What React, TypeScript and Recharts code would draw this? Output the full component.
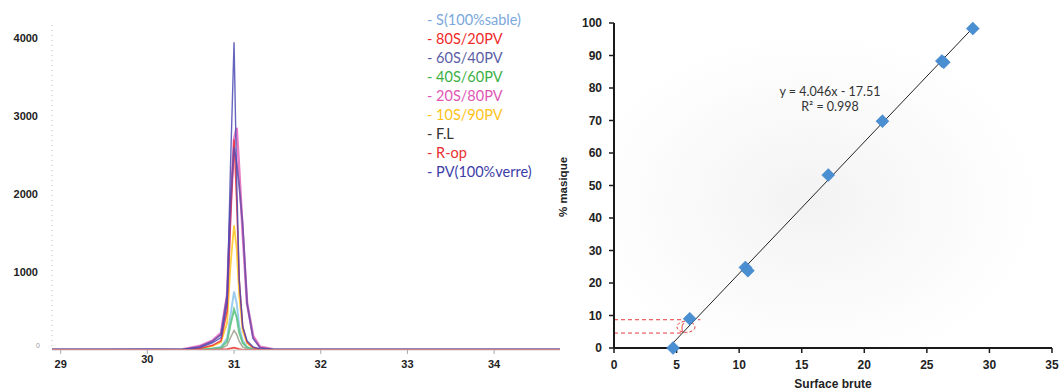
import React from 'react'
import {
  LineChart, Line, XAxis, YAxis, ScatterChart, Scatter, ReferenceLine, ReferenceDot, ReferenceArea, Label,
} from 'recharts'

// left panel: chromatogram around 31 min
const retention = [28.9, 29.5, 30.0, 30.4, 30.6, 30.75, 30.85, 30.92, 30.96, 31.0, 31.03, 31.06, 31.1, 31.15, 31.22, 31.3, 31.45, 32.0, 32.5, 33.0, 33.5, 34.0, 34.76]

const sable100 = [4, 3, 4, 3, 5, 20, 40, 150, 450, 750, 600, 300, 120, 40, 10, 4, 3, 4, 3, 4, 3, 4, 3]
const s80pv20 = [3, 3, 3, 3, 20, 60, 120, 500, 1700, 2700, 1900, 900, 300, 100, 30, 10, 3, 3, 3, 3, 3, 3, 3]
const s60pv40 = [6, 5, 6, 5, 40, 110, 200, 700, 1900, 2600, 2400, 2100, 1600, 600, 150, 30, 8, 6, 5, 6, 5, 6, 5]
const s40pv60 = [2, 2, 2, 2, 5, 15, 30, 110, 330, 520, 420, 220, 90, 30, 8, 2, 2, 2, 2, 2, 2, 2, 2]
const s20pv80 = [5, 5, 5, 5, 50, 120, 220, 700, 1800, 2700, 2850, 2300, 1500, 600, 180, 40, 8, 5, 5, 5, 5, 5, 5]
const s10pv90 = [2, 2, 2, 2, 15, 50, 100, 350, 1100, 1600, 1300, 700, 250, 90, 25, 5, 2, 2, 2, 2, 2, 2, 2]
const fl = [1, 1, 1, 1, 3, 5, 15, 60, 160, 250, 200, 110, 40, 10, 3, 1, 1, 1, 1, 1, 1, 1, 1]
const rop = [0, 0, 0, 0, 0, 2, 5, 10, 20, 30, 20, 10, 5, 2, 0, 0, 0, 0, 0, 0, 0, 0, 0]
const pv100 = [8, 6, 10, 8, 30, 90, 160, 600, 2400, 3950, 2200, 900, 300, 120, 40, 15, 8, 6, 8, 6, 8, 6, 8]

const leftTicksX = [29, 30, 31, 32, 33, 34]
const leftTicksY = [0, 1000, 2000, 3000, 4000]

// right panel: calibration
const surface = [4.72, 6.05, 10.5, 10.7, 17.12, 21.45, 26.2, 26.35, 28.67]
const masse = [0, 9, 24.8, 23.8, 53.2, 69.8, 88.3, 87.9, 98.3]
const trendX = [4.33, 28.7]
const trendY = [0, 98.6]
const rightTicksX = [0, 5, 10, 15, 20, 25, 30, 35]
const rightTicksY = [0, 10, 20, 30, 40, 50, 60, 70, 80, 90, 100]

const series = [
  { key: 's20pv80', name: '20S/80PV', color: '#e466bc', text: '#e056b4', width: 2.6, values: s20pv80 },
  { key: 's10pv90', name: '10S/90PV', color: '#ffc61f', text: '#ffc21a', width: 1.8, values: s10pv90 },
  { key: 'sable100', name: 'S(100%sable)', color: '#8cc4ea', text: '#7aa8dc', width: 2, values: sable100 },
  { key: 's40pv60', name: '40S/60PV', color: '#55c07a', text: '#3cb043', width: 2, values: s40pv60 },
  { key: 'fl', name: 'F.L', color: '#9a9a88', text: '#333333', width: 1.5, values: fl },
  { key: 's80pv20', name: '80S/20PV', color: '#ea2c3a', text: '#ee2a2a', width: 1.5, values: s80pv20 },
  { key: 's60pv40', name: '60S/40PV', color: '#6a4aa8', text: '#5b5ea6', width: 1.8, values: s60pv40 },
  { key: 'pv100', name: 'PV(100%verre)', color: '#4a4ab4', text: '#3d3da8', width: 1.4, values: pv100 },
  { key: 'rop', name: 'R-op', color: '#e8302a', text: '#e83030', width: 1.8, values: rop },
]

const legendOrder = ['sable100', 's80pv20', 's60pv40', 's40pv60', 's20pv80', 's10pv90', 'fl', 'rop', 'pv100']

const chromData = retention.map((x, i) => {
  const row: any = { x }
  series.forEach(s => { row[s.key] = s.values[i] })
  return row
})

const points = surface.map((x, i) => ({ x, y: masse[i] }))
const trend = trendX.map((x, i) => ({ x, y: trendY[i] }))

const bold = { fontFamily: 'Liberation Sans, Arial, sans-serif', fontWeight: 700, fill: '#222' }

const LeftYTick = ({ x, y, payload }: any) => {
  if (payload.value === 0) {
    return <text x={x - 4} y={y - 2} textAnchor="end" fontSize={7} fill="#999" fontFamily="Liberation Sans">0</text>
  }
  return <text x={x - 6} y={y} dy={4} textAnchor="end" fontSize={11} {...bold}>{payload.value}</text>
}

const LeftXTick = ({ x, y, payload }: any) => (
  <text x={x} y={payload.value === 30 ? y + 7 : y + 12} textAnchor="middle" fontSize={11} {...bold}>{payload.value}</text>
)

const Diamond = ({ cx, cy }: any) => (
  <polygon
    points={`${cx},${cy - 6.5} ${cx + 6.5},${cy} ${cx},${cy + 6.5} ${cx - 6.5},${cy}`}
    fill="#4a8fd2"
    stroke="#3f7fc2"
    strokeWidth={0.5}
  />
)

const DashedEllipse = ({ cx, cy }: any) => (
  <g>
    <ellipse cx={cx} cy={cy} rx={9} ry={5.5} fill="none" stroke="#e83a3a" strokeWidth={1} strokeDasharray="3 2" />
    <text x={cx - 5} y={cy + 4} fontSize={10} fill="#e83a3a" fontFamily="Liberation Sans">(</text>
  </g>
)

const EqText = (txt: string) => ({ cx, cy }: any) => (
  <text x={cx} y={cy} dy={4} textAnchor="middle" fontSize={12.5} fill="#333" fontFamily="Lato, Liberation Sans, sans-serif">{txt}</text>
)

export default function App() {
  return (
    <div style={{ position: 'absolute', left: 0, top: 0, width: 1059, height: 392, background: '#fff', overflow: 'hidden' }}>
      <div style={{ position: 'absolute', left: 0, top: 0 }}>
        <LineChart width={560} height={392} data={chromData} margin={{ top: 25, right: 0, bottom: 0, left: 8 }}>
          <XAxis
            dataKey="x"
            type="number"
            domain={[28.9, 34.76]}
            ticks={leftTicksX}
            height={42}
            axisLine={{ stroke: '#d0d0d0' }}
            tickLine={{ stroke: '#aaa' }}
            tickSize={4}
            tick={<LeftXTick />}
            allowDataOverflow
          />
          <YAxis
            type="number"
            domain={[0, 4170]}
            ticks={leftTicksY}
            width={44}
            axisLine={{ stroke: '#bbb', strokeDasharray: '1 4' }}
            tickLine={false}
            tick={<LeftYTick />}
            allowDataOverflow
          />
          {series.map(s => (
            <Line
              key={s.key}
              dataKey={s.key}
              type="linear"
              stroke={s.color}
              strokeWidth={s.width}
              strokeOpacity={0.85}
              dot={false}
              isAnimationActive={false}
            />
          ))}
        </LineChart>
      </div>

      <div style={{ position: 'absolute', left: 427, top: 10, fontFamily: 'Lato, Liberation Sans, sans-serif', fontSize: 14.5, lineHeight: '19px' }}>
        {legendOrder.map(k => {
          const s = series.find(v => v.key === k)!
          return (
            <div key={k} style={{ color: s.text, whiteSpace: 'nowrap' }}>
              - {s.name}
            </div>
          )
        })}
      </div>

      <div style={{ position: 'absolute', left: 550, top: 0 }}>
        <ScatterChart width={509} height={392} margin={{ top: 23, right: 7, bottom: 14, left: 20 }}>
          <defs>
            <radialGradient id="glow" cx="0.45" cy="0.55" r="0.6">
              <stop offset="0%" stopColor="#e8e8e8" stopOpacity={0.55} />
              <stop offset="60%" stopColor="#f4f4f4" stopOpacity={0.35} />
              <stop offset="100%" stopColor="#ffffff" stopOpacity={0} />
            </radialGradient>
          </defs>
          <ReferenceArea x1={0} x2={35} y1={0} y2={100} fill="url(#glow)" fillOpacity={1} stroke="none" />
          <XAxis
            dataKey="x"
            type="number"
            domain={[0, 35]}
            ticks={rightTicksX}
            height={30}
            axisLine={{ stroke: '#1a1a1a', strokeWidth: 2 }}
            tickLine={{ stroke: '#1a1a1a', strokeWidth: 1.5 }}
            tickSize={5}
            tickMargin={7}
            tick={{ fontSize: 12, ...bold }}
          >
            <Label
              content={() => (
                <text x={283} y={388} textAnchor="middle" fontSize={12} {...bold}>Surface brute</text>
              )}
            />
          </XAxis>
          <YAxis
            dataKey="y"
            type="number"
            domain={[0, 100]}
            ticks={rightTicksY}
            width={44}
            axisLine={{ stroke: '#1a1a1a', strokeWidth: 2 }}
            tickLine={{ stroke: '#1a1a1a', strokeWidth: 1.5 }}
            tickSize={5}
            tickMargin={7}
            tick={{ fontSize: 12, ...bold }}
          >
            <Label
              content={() => (
                <text x={17} y={187} transform="rotate(-90 17 187)" textAnchor="middle" fontSize={11.5} {...bold}>% masique</text>
              )}
            />
          </YAxis>
          <ReferenceLine segment={[{ x: 0, y: 8.7 }, { x: 6.9, y: 8.7 }]} stroke="#e83a3a" strokeDasharray="4 3" />
          <ReferenceLine segment={[{ x: 0, y: 4.6 }, { x: 5.6, y: 4.6 }]} stroke="#e83a3a" strokeDasharray="4 3" />
          <ReferenceDot x={5.75} y={6.5} r={0} shape={<DashedEllipse />} />
          <Scatter
            data={trend}
            line={{ stroke: '#222', strokeWidth: 1 }}
            shape={() => null}
            isAnimationActive={false}
          />
          <Scatter data={points} shape={<Diamond />} isAnimationActive={false} />
          <ReferenceDot x={17.26} y={78.8} r={0} shape={EqText('y = 4.046x - 17.51')} />
          <ReferenceDot x={17.26} y={74.2} r={0} shape={EqText('R² = 0.998')} />
        </ScatterChart>
      </div>
    </div>
  )
}
